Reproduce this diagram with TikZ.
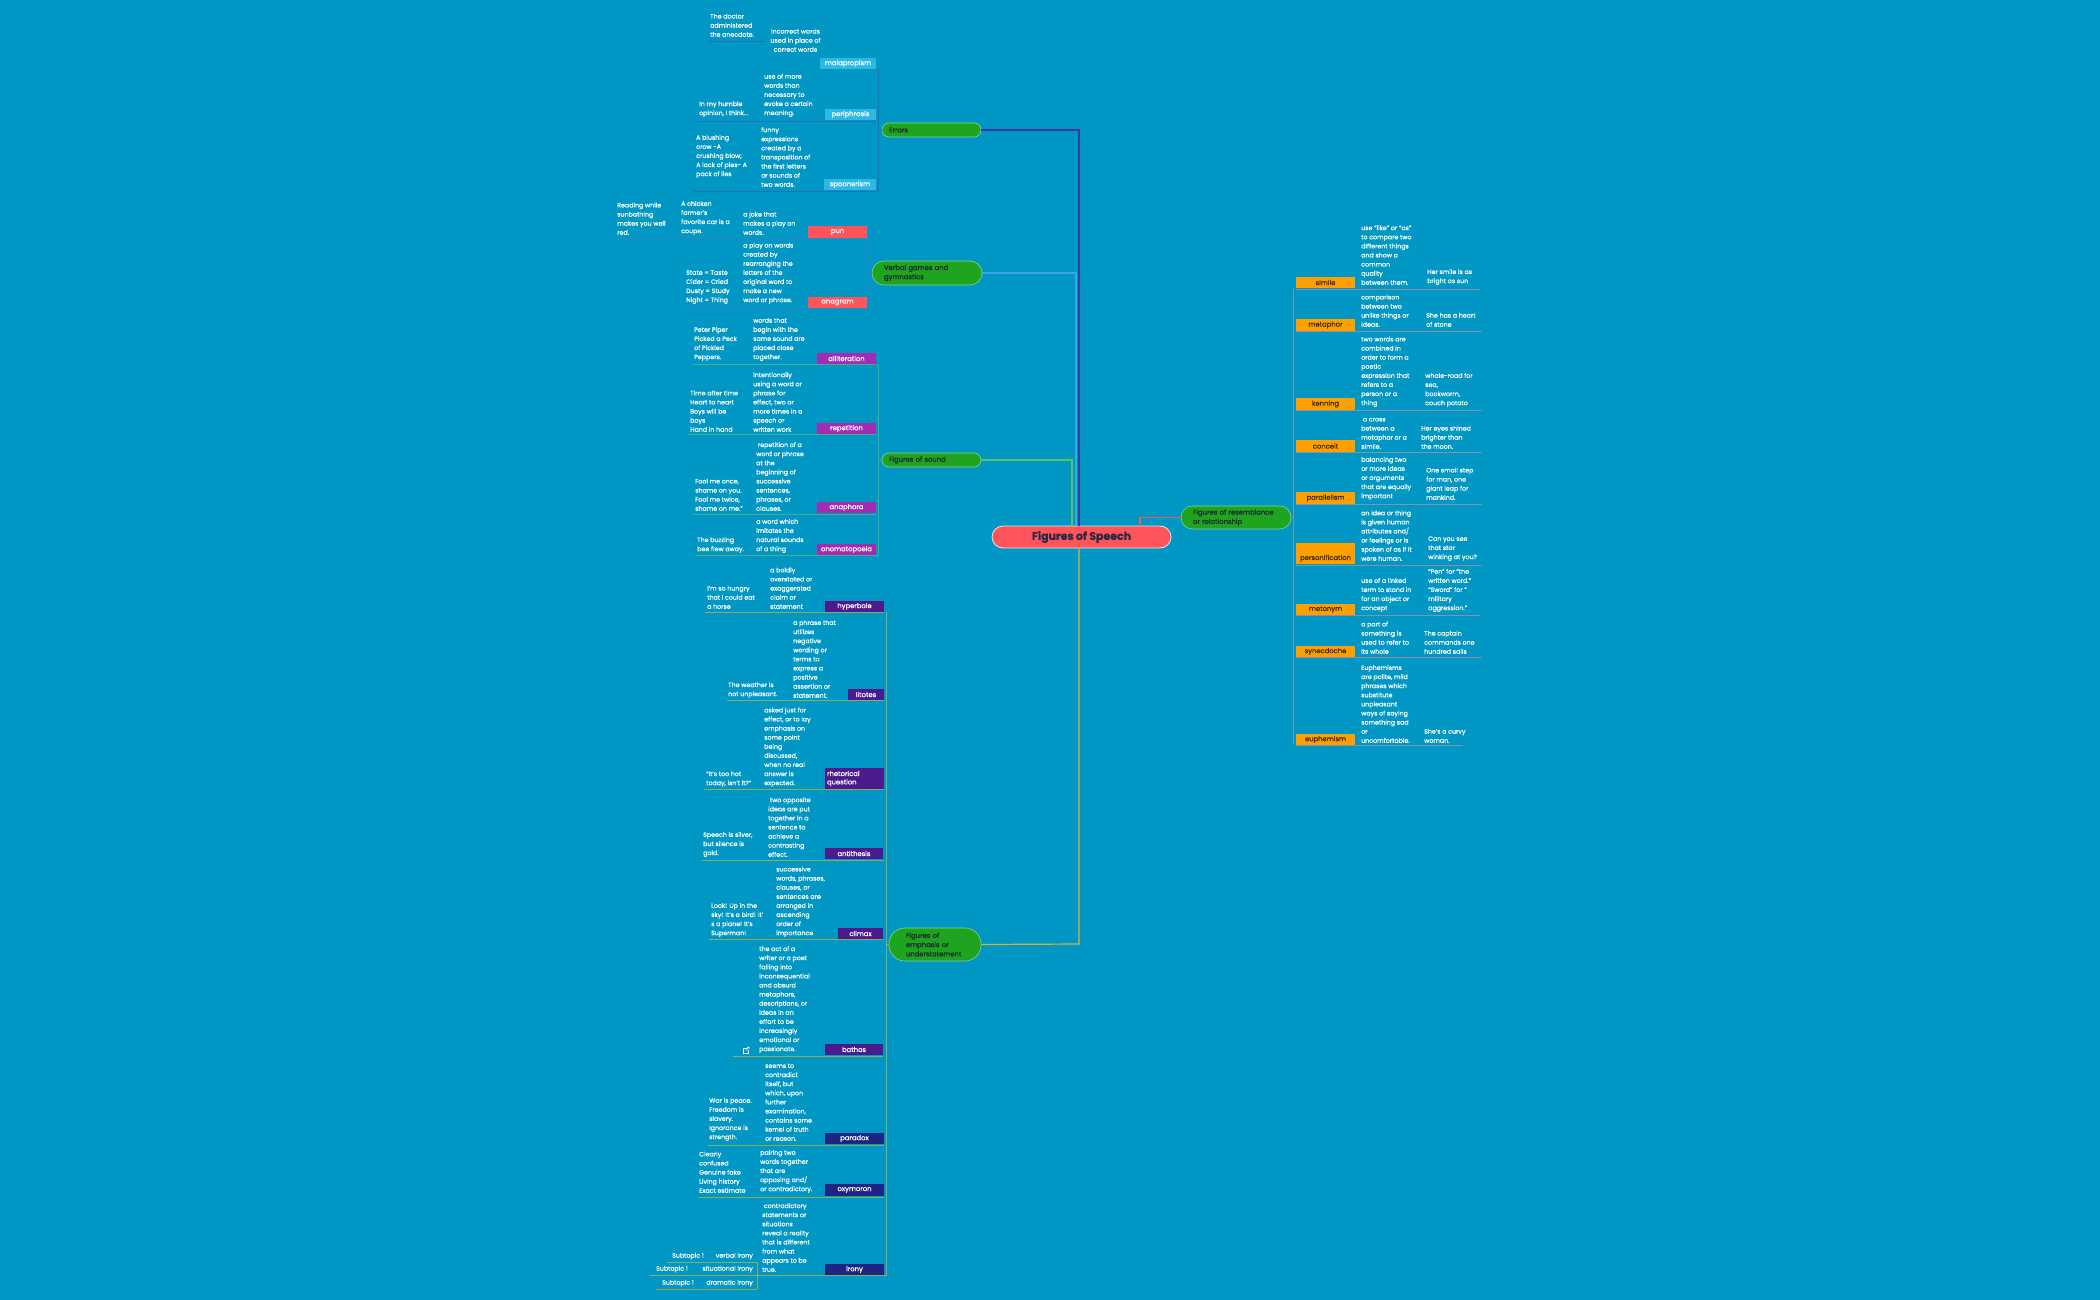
\documentclass[tikz,border=0pt]{standalone}
\usepackage{fontspec}
\setmainfont{Poppins}[FakeBold=0.6]
\newfontfamily\titlefont{Poppins}[FakeBold=0.4]
\definecolor{bg}{HTML}{0097C4}
\definecolor{errc}{HTML}{2CB9E4}
\definecolor{errline}{HTML}{2B6CB5}
\definecolor{redc}{HTML}{FF5459}
\definecolor{verline}{HTML}{2D84C4}
\definecolor{purc}{HTML}{A12DB4}
\definecolor{purline}{HTML}{4AAA8A}
\definecolor{empc}{HTML}{4B1B8E}
\definecolor{navc}{HTML}{1D2582}
\definecolor{empline}{HTML}{8CAE5C}
\definecolor{orgc}{HTML}{FFA000}
\definecolor{orgtxt}{HTML}{3A2A10}
\definecolor{orgline}{HTML}{8294A6}
\definecolor{topicgreen}{HTML}{1EA41E}
\definecolor{topicborder}{HTML}{8ED08E}
\definecolor{topictext}{HTML}{1B2733}
\definecolor{centralborder}{HTML}{E6E6EE}
\definecolor{centraltext}{HTML}{2A2A48}
\definecolor{errconn}{HTML}{3B3BA5}
\definecolor{verconn}{HTML}{3CA6E0}
\definecolor{soundconn}{HTML}{5EC25E}
\definecolor{empconn}{HTML}{D6B236}
\definecolor{resconn}{HTML}{E8605C}
\newcommand\dtf{\fontsize{6.3}{9.1}\selectfont}
\newcommand\lbf{\fontsize{6.8}{8.4}\selectfont}
\newcommand\tpf{\fontsize{6.8}{9.2}\selectfont}
\newcommand\lab[7]{\node[#6, minimum width={(#4-#2)*1pt}, minimum height={(#5-#3)*1pt}] (#1) at ({(#2+#4)/2},{(#3+#5)/2}) {#7};}
\newcommand\dt[4]{\node[dt] (#1) at (#2,#3) {#4};}
\newcommand\ul[4]{\draw[#1] (#2,#4) -- (#3,#4);}
\begin{document}
\begin{tikzpicture}[x=1pt,y=-1pt,
  dt/.style={inner sep=0pt, anchor=south west, align=left, text=white, font=\dtf},
  dtc/.style={dt, anchor=south, align=center},
  sub/.style={dt, anchor=south east},
  lbl/.style={inner sep=0pt, font=\lbf, text=white},
  errl/.style={lbl, fill=errc},
  redl/.style={lbl, fill=redc},
  purl/.style={lbl, fill=purc},
  empl/.style={lbl, fill=empc},
  navl/.style={lbl, fill=navc},
  orgl/.style={lbl, fill=orgc, text=orgtxt},
  ulerr/.style={draw=errline, line width=0.9pt},
  ulver/.style={draw=verline, line width=0.9pt},
  ulpur/.style={draw=purline, line width=0.9pt},
  ulemp/.style={draw=empline, line width=0.9pt},
  ulorg/.style={draw=orgline, line width=0.9pt},
  topic/.style={draw=topicborder, line width=0.6pt, fill=topicgreen, text=topictext, font=\tpf, align=left, inner ysep=0pt},
  conn/.style={line width=1.2pt},
]
\fill[bg] (0,0) rectangle (2100,1300);
\useasboundingbox (0,0) rectangle (2100,1300);

% ---------- central and main topics ----------
\node[draw=centralborder, line width=0.8pt, fill=redc, rounded corners=11pt, minimum width=179pt, minimum height=22pt, inner sep=0pt, text=centraltext, font=\fontsize{11}{13}\bfseries\selectfont] (central) at (1081.5,537) {Figures of Speech};

\node[topic, rounded corners=7pt, minimum width=99pt, minimum height=14pt, text width=85pt, inner xsep=7pt] (errors) at (931.5,130) {Errors};
\node[topic, rounded corners=12pt, minimum width=110pt, minimum height=24pt, text width=86pt, inner xsep=12pt] (verbal) at (927,273) {Verbal games and\\gymnastics};
\node[topic, rounded corners=7pt, minimum width=99pt, minimum height=14pt, text width=85pt, inner xsep=7pt] (sound) at (931.5,460) {Figures of sound};
\node[topic, rounded corners=16pt, minimum width=92pt, minimum height=33pt, text width=58pt, inner xsep=17pt] (emph) at (935,944.5) {Figures of\\emphasis or\\understatement};
\node[topic, rounded corners=11.5pt, minimum width=110pt, minimum height=23pt, text width=86pt, inner xsep=12pt] (resem) at (1236,517.5) {Figures of resemblance\\or relationship};

\coordinate (cErr) at (1079,130);
\coordinate (cVer) at (1076,273);
\coordinate (cSnd) at (1072,460);
\coordinate (cEmp) at (1079,944);
\coordinate (cRes) at (1140,517.5);
\draw[conn, verconn] (verbal.east) -- (cVer) -- (cVer |- central.north);
\draw[conn, errconn] (errors.east) -- (cErr) -- (cErr |- central.north);
\draw[conn, soundconn] (sound.east) -- (cSnd) -- (cSnd |- central.north);
\draw[conn, empconn] (emph.east) -- (cEmp) -- (cEmp |- central.south);
\draw[conn, resconn] (central.north -| cRes) -- (cRes) -- (resem.west);

% ---------- Errors ----------
\lab{mal}{820}{58}{876}{69}{errl}{malapropism}
\node[dtc] (maldef) at (795.5,52) {incorrect words\\used in place of\\correct words};
\dt{malex}{710}{37}{The doctor\\administered\\the anecdote.}
\ul{ulerr}{708}{765}{41}

\lab{per}{825}{109}{876}{120}{errl}{periphrasis}
\dt{perdef}{764}{117}{use of more\\words than\\necessary to\\evoke a certain\\meaning.}
\dt{perex}{699}{117}{In my humble\\opinion, I think...}
\ul{ulerr}{697}{876}{121}

\lab{spo}{824}{179}{876}{190}{errl}{spoonerism}
\dt{spodef}{761}{187}{funny\\expressions\\created by a\\transposition of\\the first letters\\or sounds of\\two words.}
\dt{spoex}{696}{178}{A blushing\\crow -A\\crushing blow;\\A lack of pies- A\\pack of lies}
\ul{ulerr}{693}{876}{191}

\draw[ulerr] (mal.south east) ++(2,0) coordinate (errTop) -- (errTop |- spo.south) -- (spo.south east);
\draw[ulerr] (errTop |- errors.west) -- (errors.west);

% ---------- Verbal games ----------
\lab{pun}{808}{226}{867}{238}{redl}{pun}
\dt{pundef}{743}{235}{a joke that\\makes a play on\\words.}
\dt{punex}{681}{235}{A chicken\\farmer's\\favorite car is a\\coupe.}
\dt{punex2}{617}{235}{Reading while\\sunbathing\\makes you well\\red.}
\ul{ulver}{615}{867}{238}

\lab{ana}{808}{297}{867}{308}{redl}{anagram}
\dt{anadef}{743}{304}{a play on words\\created by\\rearranging the\\letters of the\\original word to\\make a new\\word or phrase.}
\dt{anaex}{686}{304}{State = Taste\\Cider = Cried\\Dusty = Study\\Night = Thing}
\ul{ulver}{684}{867}{308}

\draw[ulver] (869,238) coordinate (verTop) -- (verTop |- ana.south) -- (ana.south east);
\draw[ulver] (verTop |- verbal.west) -- (verbal.west);

% ---------- Figures of sound ----------
\lab{all}{817}{353}{876}{364}{purl}{alliteration}
\dt{alldef}{753}{361}{words that\\begin with the\\same sound are\\placed close\\together.}
\dt{allex}{694}{361}{Peter Piper\\Picked a Peck\\of Pickled\\Peppers.}
\ul{ulpur}{693}{876}{364}

\lab{rep}{817}{423}{876}{434}{purl}{repetition}
\dt{repdef}{753}{432}{intentionally\\using a word or\\phrase for\\effect, two or\\more times in a\\speech or\\written work}
\dt{repex}{690}{432}{Time after time\\Heart to heart\\Boys will be\\boys\\Hand in hand}
\ul{ulpur}{688}{876}{434}

\lab{anp}{817}{502}{876}{513}{purl}{anaphora}
\dt{anpdef}{756}{511}{\ repetition of a\\word or phrase\\at the\\beginning of\\successive\\sentences,\\phrases, or\\clauses.}
\dt{anpex}{695}{511}{Fool me once,\\shame on you.\\Fool me twice,\\shame on me.”}
\ul{ulpur}{693}{876}{514}

\lab{ono}{817}{544}{876}{555}{purl}{onomatopoeia}
\dt{onodef}{756}{553}{a word which\\imitates the\\natural sounds\\of a thing}
\dt{onoex}{697}{553}{The buzzing\\bee flew away.}
\ul{ulpur}{695}{876}{555}

\draw[ulpur] (878,364) coordinate (sndTop) -- (sndTop |- ono.south) -- (ono.south east);
\draw[ulpur] (sndTop |- sound.west) -- (sound.west);

% ---------- Figures of emphasis ----------
\lab{hyp}{825}{601}{884}{612}{empl}{hyperbole}
\dt{hypdef}{770}{609}{a boldly\\overstated or\\exaggerated\\claim or\\statement}
\dt{hypex}{707}{609}{I'm so hungry\\that I could eat\\a horse}
\ul{ulemp}{705}{884}{612}

\lab{lit}{848}{689}{884}{700}{empl}{litotes}
\dt{litdef}{793}{698}{a phrase that\\utilizes\\negative\\wording or\\terms to\\express a\\positive\\assertion or\\statement.}
\dt{litex}{728}{698}{The weather is\\not unpleasant.}
\ul{ulemp}{727}{884}{700}

\node[empl, minimum width=59pt, minimum height=21pt, text width=55pt, inner xsep=2pt, align=left] (rq) at (854.5,778.5) {rhetorical\\question};
\dt{rqdef}{764}{787}{asked just for\\effect, or to lay\\emphasis on\\some point\\being\\discussed,\\when no real\\answer is\\expected.}
\dt{rqex}{706}{787}{“It’s too hot\\today, isn’t it?”}
\ul{ulemp}{704}{884}{789}

\lab{ant}{825}{848}{883}{859}{empl}{antithesis}
\dt{antdef}{768}{857}{\ two opposite\\ideas are put\\together in a\\sentence to\\achieve a\\contrasting\\effect.}
\dt{antex}{703}{857}{Speech is silver,\\but silence is\\gold.}
\ul{ulemp}{702}{883}{860}

\lab{cli}{838}{928}{883}{939}{empl}{climax}
\dt{clidef}{776}{937}{successive\\words, phrases,\\clauses, or\\sentences are\\arranged in\\ascending\\order of\\importance}
\dt{cliex}{711}{937}{Look! Up in the\\sky! It's a bird! It'\\s a plane! It's\\Superman!}
\ul{ulemp}{709}{883}{939}

\lab{bat}{825}{1044}{883}{1055}{empl}{bathos}
\dt{batdef}{759}{1053}{the act of a\\writer or a poet\\falling into\\inconsequential\\and absurd\\metaphors,\\descriptions, or\\ideas in an\\effort to be\\increasingly\\emotional or\\passionate.}
\draw[white, line width=0.5pt] (746.5,1048) -- (743,1048) -- (743,1053) -- (748,1053) -- (748,1049.5);
\draw[white, line width=0.5pt] (745.5,1050.5) -- (749,1047) (747,1047) -- (749,1047) -- (749,1049);
\ul{ulemp}{733}{883}{1056}

\lab{prd}{825}{1133}{884}{1144}{navl}{paradox}
\dt{prddef}{765}{1141}{seems to\\contradict\\itself, but\\which, upon\\further\\examination,\\contains some\\kernel of truth\\or reason.}
\dt{prdex}{709}{1141}{War is peace.\\Freedom is\\slavery.\\Ignorance is\\strength.}
\ul{ulemp}{708}{884}{1145}

\lab{oxy}{825}{1184}{884}{1196}{navl}{oxymoron}
\dt{oxydef}{760}{1193}{pairing two\\words together\\that are\\opposing and/\\or contradictory.}
\dt{oxyex}{699}{1193}{Clearly\\confused\\Genuine fake\\Living history\\Exact estimate}
\ul{ulemp}{698}{884}{1197}

\lab{iro}{825}{1264}{884}{1275}{navl}{irony}
\dt{irodef}{762}{1272}{\ contradictory\\statements or\\situations\\reveal a reality\\that is different\\from what\\appears to be\\true.}
\node[sub] (verb) at (753,1259.5) {verbal irony};
\node[sub] (verbs) at (704,1259.5) {Subtopic 1};
\node[sub] (situ) at (753,1272.5) {situational irony};
\node[sub] (situs) at (688,1272.5) {Subtopic 1};
\node[sub] (dram) at (753,1286.5) {dramatic irony};
\node[sub] (drams) at (694,1286.5) {Subtopic 1};
\ul{ulemp}{667}{757}{1262}
\ul{ulemp}{650}{884}{1275}
\ul{ulemp}{656}{757}{1289}
\draw[ulemp] (757,1262) -- (757,1289);

\draw[ulemp] (886,612) coordinate (empTop) -- (empTop |- iro.south) -- (iro.south east);
\draw[ulemp] (empTop |- emph.west) -- (emph.west);

% ---------- Figures of resemblance ----------
\lab{sim}{1296}{277}{1355}{288}{orgl}{simile}
\dt{simdef}{1361}{285}{use “like” or “as”\\to compare two\\different things\\and show a\\common\\quality\\between them.}
\dt{simex}{1427}{285}{Her smile is as\\bright as sun}
\ul{ulorg}{1296}{1480}{289}

\lab{met}{1296}{319}{1355}{331}{orgl}{metaphor}
\dt{metdef}{1361}{327}{comparison\\between two\\unlike things or\\ideas.}
\dt{metex}{1426}{327}{She has a heart\\of stone}
\ul{ulorg}{1296}{1482}{331}

\lab{ken}{1296}{398}{1355}{410}{orgl}{kenning}
\dt{kendef}{1361}{407}{two words are\\combined in\\order to form a\\poetic\\expression that\\refers to a\\person or a\\thing}
\dt{kenex}{1425}{407}{whale-road for\\sea,\\bookworm,\\couch potato}
\ul{ulorg}{1296}{1482}{410}

\lab{con}{1296}{440}{1355}{452}{orgl}{conceit}
\dt{condef}{1361}{449}{\ a cross\\between a\\metaphor or a\\simile.}
\dt{conex}{1421}{449}{Her eyes shined\\brighter than\\the moon.}
\ul{ulorg}{1296}{1482}{452}

\lab{pll}{1296}{492}{1355}{504}{orgl}{parallelism}
\dt{plldef}{1361}{500}{balancing two\\or more ideas\\or arguments\\that are equally\\important}
\dt{pllex}{1426}{500}{One small step\\for man, one\\giant leap for\\mankind.}
\ul{ulorg}{1296}{1482}{504}

\node[orgl, minimum width=59pt, inner ysep=2pt, text height=15pt, text depth=2pt] (pers) at (1325.5,553.5) {personification};
\dt{persdef}{1361}{561}{an idea or thing\\is given human\\attributes and/\\or feelings or is\\spoken of as if it\\were human.}
\dt{persex}{1428}{561}{Can you see\\that star\\winking at you?}
\ul{ulorg}{1296}{1482}{565}

\lab{mto}{1296}{604}{1355}{615}{orgl}{metonym}
\dt{mtodef}{1361}{612}{use of a linked\\term to stand in\\for an object or\\concept}
\dt{mtoex}{1428}{612}{“Pen” for “the\\written word.”\\“Sword” for “\\military\\aggression.”}
\ul{ulorg}{1296}{1480}{615}

\lab{syn}{1296}{646}{1355}{657}{orgl}{synecdoche}
\dt{syndef}{1361}{654}{a part of\\something is\\used to refer to\\its whole}
\dt{synex}{1424}{654}{The captain\\commands one\\hundred sails}
\ul{ulorg}{1296}{1482}{657}

\lab{eup}{1296}{734}{1355}{745}{orgl}{euphemism}
\dt{eupdef}{1361}{743}{Euphemisms\\are polite, mild\\phrases which\\substitute\\unpleasant\\ways of saying\\something sad\\or\\uncomfortable.}
\dt{eupex}{1424}{743}{She's a curvy\\woman.}
\ul{ulorg}{1296}{1463}{745}

\draw[ulorg] (1293,289) coordinate (resTop) -- (resTop |- eup.south);
\draw[ulorg] (resem.east) -- (resTop |- resem.east);
\end{tikzpicture}
\end{document}
